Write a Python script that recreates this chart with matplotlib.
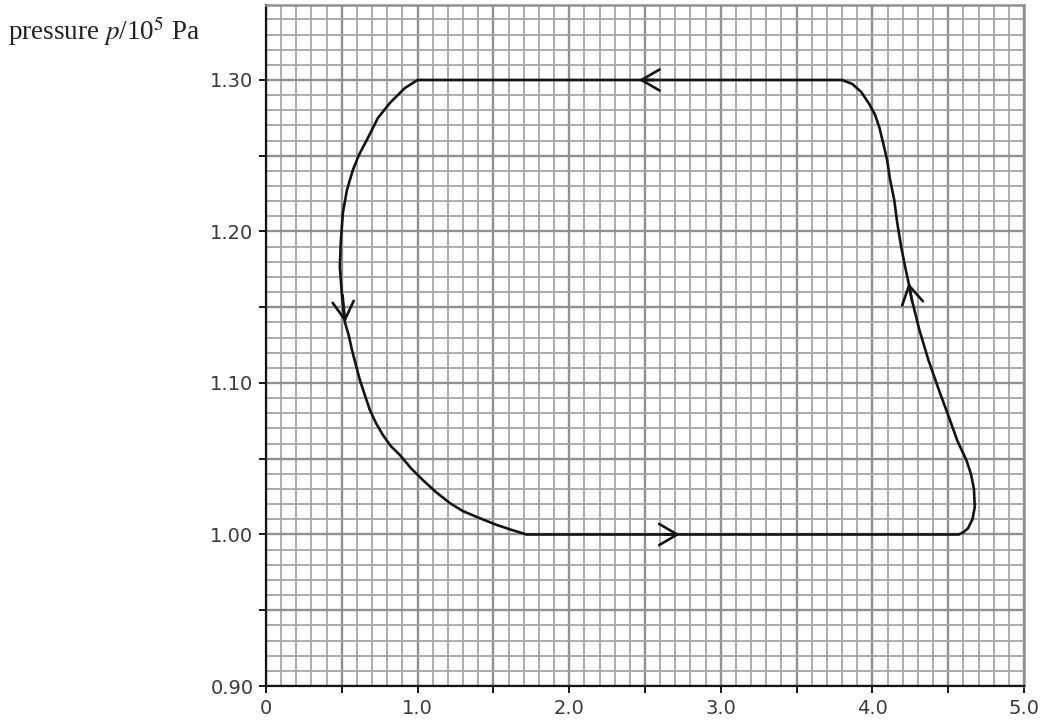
"""p-V cycle on graph paper: pressure against volume, closed loop with direction arrows."""

import matplotlib

matplotlib.use("Agg")
import matplotlib.pyplot as plt
from matplotlib.ticker import FuncFormatter, MultipleLocator

# ------------------------------------------------------------ data

# loop traced in its direction of travel: top (leftwards), left side (down),
# bottom (rightwards), right side (up) back to the start
volume = [
    3.80, 1.000, 0.916, 0.817, 0.738, 0.665, 0.613, 0.573, 0.534, 0.507, 0.494, 0.487,
    0.501, 0.520, 0.547, 0.567, 0.593, 0.619, 0.652, 0.685, 0.725, 0.771, 0.823, 0.883,
    0.955, 1.034, 1.120, 1.212, 1.298, 1.390, 1.522, 1.621, 1.719,
    4.57, 4.60, 4.63, 4.66, 4.675, 4.67, 4.65, 4.62, 4.56, 4.51, 4.44, 4.37,
    4.31, 4.26, 4.242, 4.216, 4.190, 4.163, 4.144, 4.117, 4.097, 4.071, 4.045, 4.018,
    3.979, 3.926, 3.867, 3.80,
]
pressure = [
    1.300, 1.300, 1.2947, 1.2848, 1.2749, 1.2604, 1.2505, 1.2406, 1.2274, 1.2122, 1.1944, 1.1766,
    1.1581, 1.1403, 1.1310, 1.1218, 1.1119, 1.1020, 1.0921, 1.0822, 1.0736, 1.0657, 1.0584, 1.0525,
    1.0439, 1.0360, 1.0281, 1.0208, 1.0155, 1.0116, 1.0063, 1.0030, 1.000,
    1.000, 1.0015, 1.004, 1.010, 1.018, 1.030, 1.040, 1.049, 1.062, 1.076, 1.095, 1.115,
    1.135, 1.155, 1.1647, 1.1766, 1.1898, 1.2063, 1.2208, 1.2340, 1.2472, 1.2584, 1.2690, 1.2769,
    1.2842, 1.2921, 1.2974, 1.300,
]

# direction arrows: (tail, tip) pairs lying on the loop
arrow_tail = [(2.56, 1.300), (0.505, 1.158), (2.63, 1.000), (4.262, 1.154)]
arrow_tip = [(2.46, 1.300), (0.522, 1.140), (2.73, 1.000), (4.238, 1.166)]

x_labels = {0.0: "0", 1.0: "1.0", 2.0: "2.0", 3.0: "3.0", 4.0: "4.0", 5.0: "5.0"}
y_labels = {0.90: "0.90", 1.00: "1.00", 1.10: "1.10", 1.20: "1.20", 1.30: "1.30"}

# ------------------------------------------------------------ style

GRID_MINOR = "#a5a5a5"
GRID_MAJOR = "#909090"
INK = "#141414"
TICK_TEXT = "#3a3a3a"

plt.rcParams["mathtext.fontset"] = "stix"

fig = plt.figure(figsize=(10.44, 7.26), dpi=100)
ax = fig.add_axes([266 / 1044, 1 - 686 / 726, (1024 - 266) / 1044, (686 - 5) / 726])

ax.set_xlim(0, 5.0)
ax.set_ylim(0.90, 1.3495)

ax.xaxis.set_major_locator(MultipleLocator(0.5))
ax.xaxis.set_minor_locator(MultipleLocator(0.1))
ax.yaxis.set_major_locator(MultipleLocator(0.05))
ax.yaxis.set_minor_locator(MultipleLocator(0.01))


def _label_from(table):
    def fmt(value, _pos):
        for key, text in table.items():
            if abs(value - key) < 1e-6:
                return text
        return ""

    return FuncFormatter(fmt)


ax.xaxis.set_major_formatter(_label_from(x_labels))
ax.yaxis.set_major_formatter(_label_from(y_labels))

ax.grid(which="minor", color=GRID_MINOR, linewidth=1.3)
ax.grid(which="major", color=GRID_MAJOR, linewidth=1.7)
ax.set_axisbelow(True)

ax.tick_params(which="minor", length=0)
ax.tick_params(which="major", direction="out", length=5, width=1.4, color=INK,
               labelsize=14, labelcolor=TICK_TEXT, pad=4)
for lab in ax.get_xticklabels() + ax.get_yticklabels():
    lab.set_family("DejaVu Sans")

for side in ("left", "bottom"):
    ax.spines[side].set_color(INK)
    ax.spines[side].set_linewidth(1.6)
for side in ("top", "right"):
    ax.spines[side].set_color(GRID_MAJOR)
    ax.spines[side].set_linewidth(1.8)

# ------------------------------------------------------------ loop

ax.plot(volume, pressure, color=INK, linewidth=1.9, solid_joinstyle="round",
        solid_capstyle="round", zorder=3)

for tail, tip in zip(arrow_tail, arrow_tip):
    ax.annotate(
        "", xy=tip, xytext=tail,
        arrowprops=dict(arrowstyle="->,head_length=0.65,head_width=0.38",
                        color=INK, lw=1.9, shrinkA=0, shrinkB=0,
                        mutation_scale=20),
        zorder=4,
    )

fig.text(8 / 1044, 1 - 31 / 726, r"pressure $p$/10$^5$ Pa", family="Liberation Serif",
         fontsize=19.5, color="#222222", va="center", ha="left")

fig.savefig("out.png", dpi=100)
plt.close(fig)
